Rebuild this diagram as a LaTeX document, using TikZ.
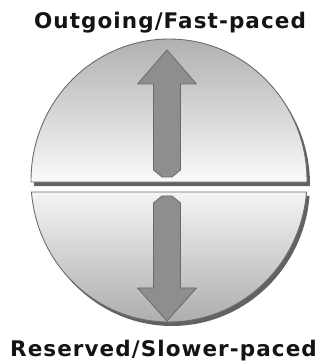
\documentclass[tikz,border=0pt]{standalone}
\usepackage{fontspec}
\setmainfont{DejaVu Sans}
\usetikzlibrary{shadows}
\definecolor{rim}{HTML}{6C6C6C}
\definecolor{arrowfill}{HTML}{8E8E8E}
\definecolor{arrowline}{HTML}{6A6A6A}
\definecolor{topgray}{HTML}{B0B0B0}
\definecolor{lowgray}{HTML}{ABABAB}
\definecolor{paper}{HTML}{FAFAFA}
\tikzset{
  half/.style={draw=rim, line width=0.9pt,
    drop shadow={shadow xshift=3pt, shadow yshift=-4pt, fill=black!72, opacity=0.85}},
  bigarrow/.style={fill=arrowfill, draw=arrowline, line width=0.8pt, line join=round},
  label/.style={font=\fontsize{21.5}{21.5}\selectfont\bfseries\addfontfeature{LetterSpace=5}, text=black!92, inner sep=0pt, anchor=base}
}
\begin{document}
\begin{tikzpicture}[x=1pt,y=1pt]
\useasboundingbox (0,0) rectangle (329,364);
\coordinate (c) at (169,183.5);
% upper half
\path[half, top color=topgray, bottom color=paper]
  (c) ++(-0.61:138 and 141.5)
  arc[start angle=-0.61, end angle=180.61, x radius=138, y radius=141.5] -- cycle;
% lower half
\path[half, top color=paper, bottom color=lowgray]
  (c) ++(184.66:138 and 141.5)
  arc[start angle=184.66, end angle=355.34, x radius=138, y radius=141.5] -- cycle;
% up arrow
\draw[bigarrow] (167,314) -- (196.5,280) -- (180.5,280) -- (180.5,194) -- (172,187)
  -- (162,187) -- (153.5,194) -- (153.5,280) -- (137.5,280) -- cycle;
% down arrow
\draw[bigarrow] (167,43) -- (196.5,76) -- (180.5,76) -- (180.5,161) -- (172,168)
  -- (162,168) -- (153.5,161) -- (153.5,76) -- (137.5,76) -- cycle;
\node[label] (top) at (170,335) {Outgoing/Fast-paced};
\node[label] (bottom) at (163.5,7) {Reserved/Slower-paced};
\end{tikzpicture}
\end{document}
